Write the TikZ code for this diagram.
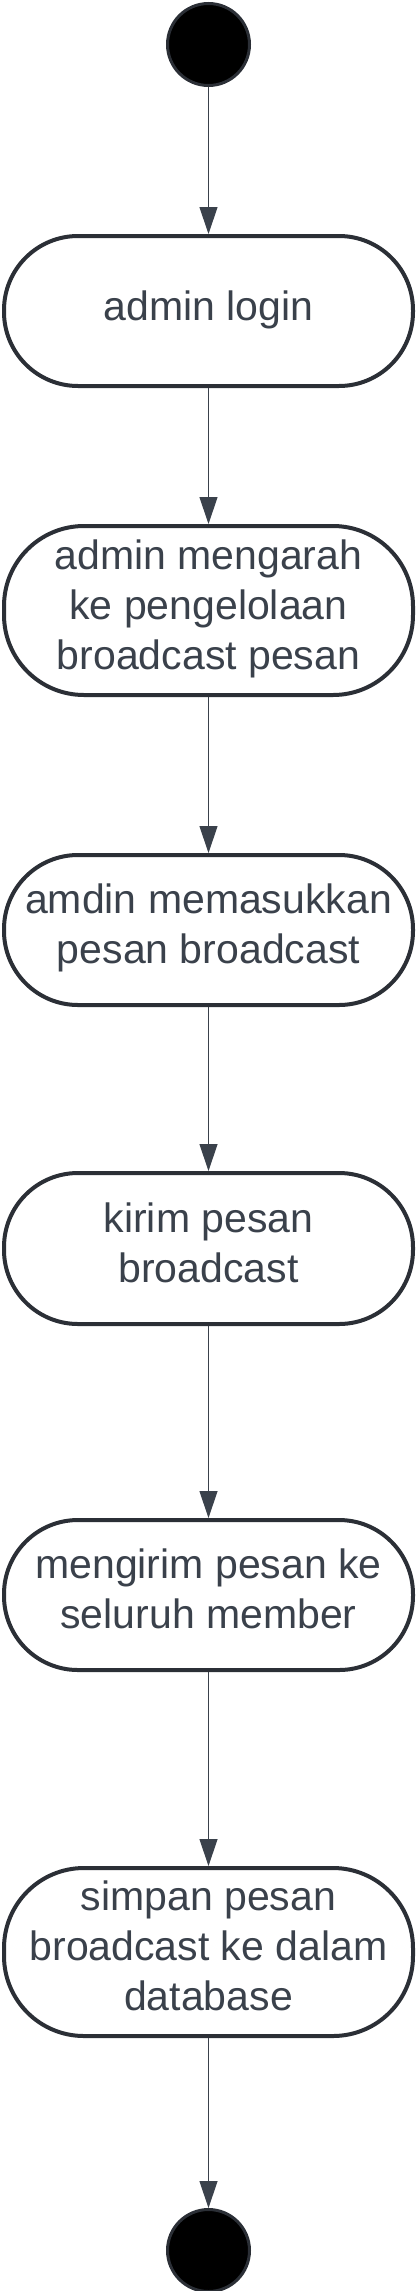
\documentclass[tikz,border=0pt]{standalone}
\usepackage{fontspec}
\setmainfont{Liberation Sans}
\usepackage{xcolor}
\usetikzlibrary{arrows.meta}

\definecolor{lineC}{HTML}{2B2F36}
\definecolor{textC}{HTML}{3A414B}

\def\actstrut{\rule[-12pt]{0pt}{42pt}}

\tikzset{
	act/.style = {draw = lineC, line width = 4pt, fill = white, text = textC, align = center,
		minimum width = 409pt, inner sep = 0pt, font = \fontsize{41}{50}\selectfont,
		execute at begin node = \actstrut, execute at end node = \actstrut},
	terminal/.style = {circle, draw = lineC, line width = 3pt, fill = black,
		minimum size = 82pt, inner sep = 0pt},
	flow/.style = {draw = textC, line width = 1.2pt, -{Triangle[width = 18pt, length = 27pt]}}
}

\begin{document}
\begin{tikzpicture}[x = 1pt, y = -1pt]
	\useasboundingbox (0,0) rectangle (416,2291);

	\node[terminal] (start) at (208.5,44.5) {};
	\node[act, minimum height = 150pt, rounded corners = 74pt] (login) at (208.5,311) {admin login};
	\node[act, minimum height = 169pt, rounded corners = 80pt] (arah) at (208.5,610.5) {admin mengarah\\ke pengelolaan\\broadcast pesan};
	\node[act, minimum height = 150pt, rounded corners = 74pt] (masuk) at (208.5,930) {amdin memasukkan\\pesan broadcast};
	\node[act, minimum height = 151pt, rounded corners = 74pt] (kirim) at (208.5,1248.5) {kirim pesan\\broadcast};
	\node[act, minimum height = 150pt, rounded corners = 74pt] (member) at (208.5,1595) {mengirim pesan ke\\seluruh member};
	\node[act, minimum height = 168pt, rounded corners = 80pt] (simpan) at (208.5,1952) {simpan pesan\\broadcast ke dalam\\database};
	\node[terminal] (stop) at (208.5,2250.5) {};

	\begin{scope}[flow]
		\draw (start) -- (login);
		\draw (login) -- (arah);
		\draw (arah) -- (masuk);
		\draw (masuk) -- (kirim);
		\draw (kirim) -- (member);
		\draw (member) -- (simpan);
		\draw (simpan) -- (stop);
	\end{scope}
\end{tikzpicture}
\end{document}
